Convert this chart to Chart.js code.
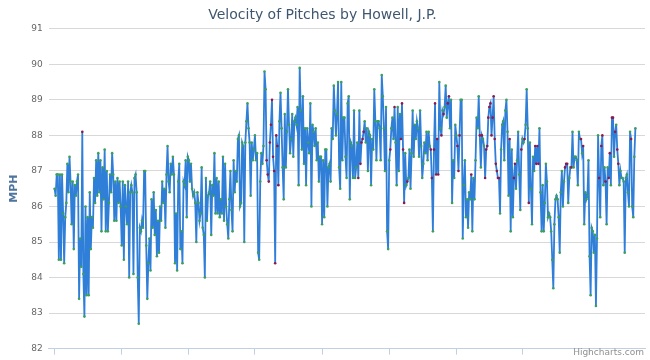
<!DOCTYPE html>
<html>
<head>
<meta charset="utf-8">
<script src="https://cdn.jsdelivr.net/npm/chart.js@4"></script>
<style>
  body { margin: 0; background: #fff; }
  #wrap { position: relative; width: 650px; height: 360px; }
  #credits { position: absolute; right: 6px; bottom: 3px; font: 9px "DejaVu Sans", sans-serif; color: #909090; }
</style>
</head>
<body>
<div id="wrap">
  <canvas id="myChart" width="650" height="360"></canvas>
  <div id="credits">Highcharts.com</div>
</div>
<script>
// velocity readings (mph) in order, split in chunks
const veloA = [86.5, 86.3, 86.9, 86.9, 84.5, 86.9, 84.5, 86.9, 85.8, 84.4, 85.7, 86.1, 87.2, 86.4, 87.4, 86.7, 85.5, 86.7, 84.8, 86.6,
    86.3, 86.7, 86.9, 83.4, 85.1, 84.3, 88.1, 84.1, 82.9, 86.0, 83.5, 85.7, 83.5, 86.4, 84.8, 85.7, 85.4, 86.8, 86.1, 87.3,
    86.3, 87.5, 86.4, 87.3, 85.3, 87.1, 86.2, 87.6, 85.3, 87.0, 85.3, 86.1, 86.9, 86.4, 87.5, 86.9, 85.6, 86.7, 85.6, 86.8,
    86.1, 86.7, 86.0, 84.9, 86.7, 84.5, 86.6, 86.0, 85.5, 86.7, 84.0, 86.4, 86.6, 86.4, 84.1, 86.8, 86.9, 86.4];
const veloB = [84.0, 82.7, 85.4, 85.3, 85.6, 85.4, 87.0, 87.0, 84.9, 83.4, 84.4, 85.1, 84.2, 86.2, 85.4, 86.4, 85.2, 85.9, 84.6, 85.6,
    84.7, 86.0, 85.6, 86.7, 86.1, 86.5, 85.4, 86.9, 87.7, 86.7, 86.4, 87.2, 86.9, 87.4, 86.9, 84.4, 85.8, 84.2, 86.7, 87.2,
    84.8, 85.3, 84.4, 86.7, 86.6, 87.3, 85.7, 87.4, 87.3, 86.7, 87.2, 86.5, 86.3, 86.4, 86.1, 85.0, 86.4, 86.1, 85.6, 85.8,
    87.1, 85.4, 85.2, 84.0, 86.8, 85.6, 86.3, 86.4, 86.7, 85.2, 86.6, 86.3, 87.5, 85.8, 86.8, 85.8, 86.7, 85.7, 86.2, 85.8,
    87.4, 85.6, 87.2, 86.0, 85.5, 85.1, 86.2, 87.0];
const veloC = [85.9, 85.3, 87.3, 86.4, 87.0, 86.7, 87.9, 88.0, 86.0, 86.1, 87.8, 87.7, 85.0, 87.8, 88.4, 88.9, 88.2, 87.8, 86.3, 87.8,
    87.3, 87.6, 88.0, 87.3, 87.5, 84.7, 84.5, 86.7, 87.5, 87.2, 87.7, 89.8, 89.3, 87.3, 86.9, 86.7, 87.8, 88.3, 89.0, 87.4,
    87.0, 84.4, 88.0, 87.7, 86.6, 88.4, 89.2, 88.2, 87.1, 86.2, 88.6, 87.1, 88.1, 89.3, 88.3, 87.5, 87.9, 88.6, 87.4, 88.4,
    88.5, 88.3, 88.8, 86.6, 89.9, 88.7, 87.6, 89.1, 87.2, 88.2, 86.6, 88.2, 87.8, 87.5, 88.9, 86.0, 88.3, 88.1, 87.7, 88.2,
    87.3, 87.8, 86.7, 87.4, 87.4, 85.5, 87.3, 85.7, 87.6, 87.6, 86.0, 87.1, 87.2, 86.7, 88.2, 87.9, 89.4, 88.7];
const veloD = [88.0, 88.6, 89.5, 87.1, 86.5, 89.5, 87.3, 88.5, 88.5, 87.4, 86.8, 88.9, 89.1, 86.2, 87.8, 87.7, 86.8, 88.7, 86.8, 87.1,
    87.8, 86.8, 88.7, 87.2, 87.8, 87.9, 88.1, 88.4, 87.8, 88.2, 87.0, 88.1, 88.0, 86.6, 87.9, 87.6, 89.3, 88.4, 87.3, 88.4,
    88.4, 88.2, 87.3, 89.7, 89.1, 88.2, 87.0, 88.8, 85.3, 84.8, 87.3, 87.6, 88.2, 88.5, 87.9, 88.8, 87.8, 86.6, 88.8, 87.0,
    88.6, 87.9, 88.9, 87.6, 86.1, 87.5, 86.6, 86.7, 86.8, 87.6, 86.5, 87.5, 88.7, 87.4, 88.3, 87.9, 88.4, 88.2, 87.4, 88.7,
    87.7, 86.8, 87.2, 87.8, 87.5, 88.1, 87.3, 88.1, 87.7, 87.6, 86.8, 85.3, 87.6, 88.9, 86.9, 87.9, 86.9, 89.5, 88.2, 88.0,
    88.7, 88.6, 88.8, 89.4, 88.5];
const veloE = [88.9, 89.1, 88.2, 89.0, 86.1, 87.3, 86.8, 88.3, 88.0, 87.7, 87.0, 88.0, 89.0, 89.0, 85.1, 86.6, 87.3, 85.7, 86.2, 85.4,
    86.4, 86.2, 86.9, 85.3, 86.8, 86.2, 87.3, 88.5, 88.2, 89.1, 88.0, 87.1, 88.0, 87.9, 87.7, 86.8, 87.6, 87.7, 88.5, 88.8,
    88.9, 88.0, 88.5, 89.1, 87.9, 87.2, 87.0, 86.8, 86.8, 85.8, 87.6, 88.3, 88.4, 87.3, 88.7, 89.0, 88.1, 86.3, 87.9, 85.3,
    87.6, 85.7, 86.8, 87.2, 86.5, 87.3, 88.1, 86.9, 85.9, 87.6, 87.9, 87.8, 87.9, 88.3, 89.3, 88.2, 86.1, 87.8, 86.5, 85.5,
    87.4, 87.0, 87.7, 87.2, 87.7, 87.2, 88.2, 86.4, 85.3, 86.6, 85.3, 86.1, 87.2, 86.7, 85.7, 85.8, 85.7, 85.3, 84.5, 83.7,
    85.5, 86.2, 86.3, 86.2, 85.7, 84.7, 86.4, 87.0];
const veloF = [86.0, 86.7, 87.1, 87.2, 87.2, 86.1, 86.8, 87.1, 87.1, 88.1, 87.1, 87.4, 87.4, 87.3, 86.6, 88.1, 87.9, 87.9, 87.5, 87.7,
    85.5, 86.4, 86.2, 86.3, 87.3, 84.6, 83.5, 85.4, 85.3, 84.7, 85.2, 83.2, 85.1, 88.0, 86.8, 85.7, 87.7, 88.0, 86.6, 87.1,
    86.7, 85.5, 87.1, 86.8, 87.5, 86.6, 88.5, 88.5, 87.4, 88.1, 88.3, 87.6, 87.2, 86.6, 87.0, 86.8, 86.8, 86.7, 84.7, 86.8,
    86.9, 86.4, 86.0, 88.1, 87.9, 86.0, 85.7, 87.4, 88.2];

// positions (inside each chunk) of the pitches drawn with a red marker
const redA = [26];
const redB = [];
const redC = [33, 34, 35, 36, 37, 38, 39, 40, 41, 42, 43, 44];
const redD = [21, 23, 24, 25, 26, 51, 55, 61, 62, 63, 64, 67, 89, 90, 92, 93, 94, 95, 96, 99, 101];
const redE = [0, 1, 9, 10, 11, 22, 30, 32, 35, 36, 37, 38, 39, 40, 41, 42, 43, 44, 45, 46, 47, 48, 58, 62, 63, 69, 72, 76, 82, 83, 84, 85];
const redF = [2, 3, 4, 8, 17, 19, 34, 36, 37, 40, 43, 44, 46, 47, 49, 51, 52, 64];

const yTicks = [82, 83, 84, 85, 86, 87, 88, 89, 90, 91];

const chunks = [[veloA, redA], [veloB, redB], [veloC, redC], [veloD, redD], [veloE, redE], [veloF, redF]];
const velocidades = [];
const vermelhos = new Set();
chunks.forEach(([vals, reds]) => {
    reds.forEach(r => vermelhos.add(velocidades.length + r));
    vals.forEach(v => velocidades.push(v));
});

const pontos = velocidades.map((v, i) => ({ x: i, y: v }));
const n = velocidades.length;
const passo = n / 8.7;
const xTicks = [];
for (let t = 0; t < n; t += passo) xTicks.push(Math.round(t));

const corPonto = ctx => vermelhos.has(ctx.dataIndex) ? '#8e1a4c' : '#3aa05c';

const config = {
    type: 'line',
    data: {
        datasets: [{
            label: 'Velocity',
            data: pontos,
            borderColor: '#2f7ed8',
            borderWidth: 1.8,
            tension: 0,
            pointRadius: 1.3,
            pointBorderWidth: 0,
            pointBackgroundColor: corPonto,
            pointBorderColor: corPonto,
            fill: false
        }]
    },
    options: {
        responsive: false,
        animation: false,
        layout: { padding: { left: 0, right: 5, top: 0, bottom: 2 } },
        plugins: {
            legend: { display: false },
            tooltip: { enabled: false },
            title: {
                display: true,
                text: 'Velocity of Pitches by Howell, J.P.',
                color: '#3e576f',
                font: { family: '"DejaVu Sans", sans-serif', size: 14, weight: 'normal' },
                padding: { top: 7, bottom: 5 }
            }
        },
        scales: {
            x: {
                type: 'linear',
                min: -n * 0.0102,
                max: n * 1.0147,
                afterBuildTicks: axis => { axis.ticks = xTicks.map(v => ({ value: v })); },
                ticks: { display: false },
                grid: { drawOnChartArea: false, drawTicks: true, tickLength: 6, color: '#c0d0e0' },
                border: { display: true, color: '#c0d0e0', width: 1 }
            },
            y: {
                min: 82,
                max: 91,
                afterBuildTicks: axis => { axis.ticks = yTicks.map(v => ({ value: v })); },
                ticks: {
                    color: '#666666',
                    padding: 6,
                    font: { family: '"DejaVu Sans", sans-serif', size: 9 }
                },
                grid: { color: '#d8d8d8', drawTicks: false },
                border: { display: false },
                title: {
                    display: true,
                    text: 'MPH',
                    color: '#4d759e',
                    font: { family: '"DejaVu Sans", sans-serif', size: 11, weight: 'bold' },
                    padding: { top: 8, bottom: 4 }
                }
            }
        }
    }
};

const ctx = document.getElementById('myChart').getContext('2d');
new Chart(ctx, config);
</script>
</body>
</html>
